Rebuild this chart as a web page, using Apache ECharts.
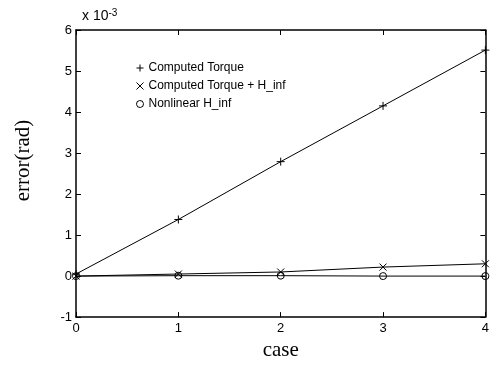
<!DOCTYPE html>
<html>
<head>
<meta charset="utf-8">
<script src="https://cdn.jsdelivr.net/npm/echarts@6/dist/echarts.min.js"></script>
<style>
  html, body { margin: 0; padding: 0; background: #fff; }
  #chart { width: 492px; height: 366px; }
</style>
</head>
<body>
<div id="chart"></div>
<script>
// values in units of 1e-3 rad
const cases = [0, 1, 2, 3, 4];
const computedTorque = [0.05, 1.38, 2.79, 4.15, 5.51];
const computedTorqueHinf = [0.0, 0.05, 0.1, 0.22, 0.3];
const nonlinearHinf = [0.0, 0.01, 0.01, 0.0, 0.0];
const seriesNames = ["Computed Torque", "Computed Torque + H_inf", "Nonlinear H_inf"];

// open marker shapes, stroked only
const PLUS = "path://M0,5L10,5M5,0L5,10";
const CROSS = "path://M1,1L9,9M9,1L1,9";
const CIRCLE = "path://M10,5A5,5 0 1 1 9.99,4.9Z";

const sans = "Liberation Sans";
const serif = "Liberation Serif";

const markerStyle = { color: "transparent", borderColor: "#000", borderWidth: 1 };

function pairs(vals) {
  return cases.map((c, i) => [c, vals[i]]);
}

function axisCommon(extra) {
  return Object.assign({
    type: "value",
    axisLine: { show: true, onZero: false, lineStyle: { color: "#000", width: 1.5 } },
    axisTick: { show: true, inside: true, length: 5, lineStyle: { color: "#000" } },
    splitLine: { show: false },
    axisLabel: { color: "#000", fontFamily: sans, fontSize: 13 },
  }, extra);
}

const chart = echarts.init(document.getElementById("chart"));
chart.setOption({
  animation: false,
  backgroundColor: "#fff",
  grid: { left: 76, right: 2, top: 30, bottom: 43 },
  title: {
    text: "x 10{sup|-3}",
    left: 77,
    top: 3,
    textStyle: {
      color: "#000", fontFamily: sans, fontSize: 14, fontWeight: "normal",
      rich: { sup: { fontSize: 10, verticalAlign: "top", color: "#000", fontFamily: sans, padding: [0, 0, 7, 0] } },
    },
  },
  legend: {
    orient: "vertical",
    left: 131,
    top: 57,
    itemWidth: 7,
    itemHeight: 7,
    itemGap: 6,
    textStyle: { color: "#000", fontFamily: sans, fontSize: 12 },
    data: [
      { name: seriesNames[0], icon: PLUS, itemStyle: markerStyle },
      { name: seriesNames[1], icon: CROSS, itemStyle: markerStyle },
      { name: seriesNames[2], icon: CIRCLE, itemStyle: markerStyle },
    ],
  },
  xAxis: [
    axisCommon({
      min: 0, max: 4, interval: 1,
      name: "case", nameLocation: "middle", nameGap: 21,
      nameTextStyle: { color: "#000", fontFamily: serif, fontSize: 21 },
      axisLabel: { color: "#000", fontFamily: sans, fontSize: 13, margin: 5 },
    }),
    axisCommon({ min: 0, max: 4, interval: 1, position: "top", axisLabel: { show: false } }),
  ],
  yAxis: [
    axisCommon({
      min: -1, max: 6, interval: 1,
      name: "error(rad)", nameLocation: "middle", nameGap: 42,
      nameTextStyle: { color: "#000", fontFamily: serif, fontSize: 21, padding: [0, 0, 0, 26] },
      axisLabel: { color: "#000", fontFamily: sans, fontSize: 13, margin: 4 },
    }),
    axisCommon({ min: -1, max: 6, interval: 1, position: "right", axisLabel: { show: false } }),
  ],
  series: [
    {
      name: seriesNames[0], type: "line", data: pairs(computedTorque),
      symbol: PLUS, symbolSize: 8, itemStyle: markerStyle,
      lineStyle: { color: "#000", width: 1 },
    },
    {
      name: seriesNames[1], type: "line", data: pairs(computedTorqueHinf),
      symbol: CROSS, symbolSize: 7, itemStyle: markerStyle,
      lineStyle: { color: "#000", width: 1 },
    },
    {
      name: seriesNames[2], type: "line", data: pairs(nonlinearHinf),
      symbol: CIRCLE, symbolSize: 7, itemStyle: markerStyle,
      lineStyle: { color: "#000", width: 1 },
    },
  ],
});
</script>
</body>
</html>
